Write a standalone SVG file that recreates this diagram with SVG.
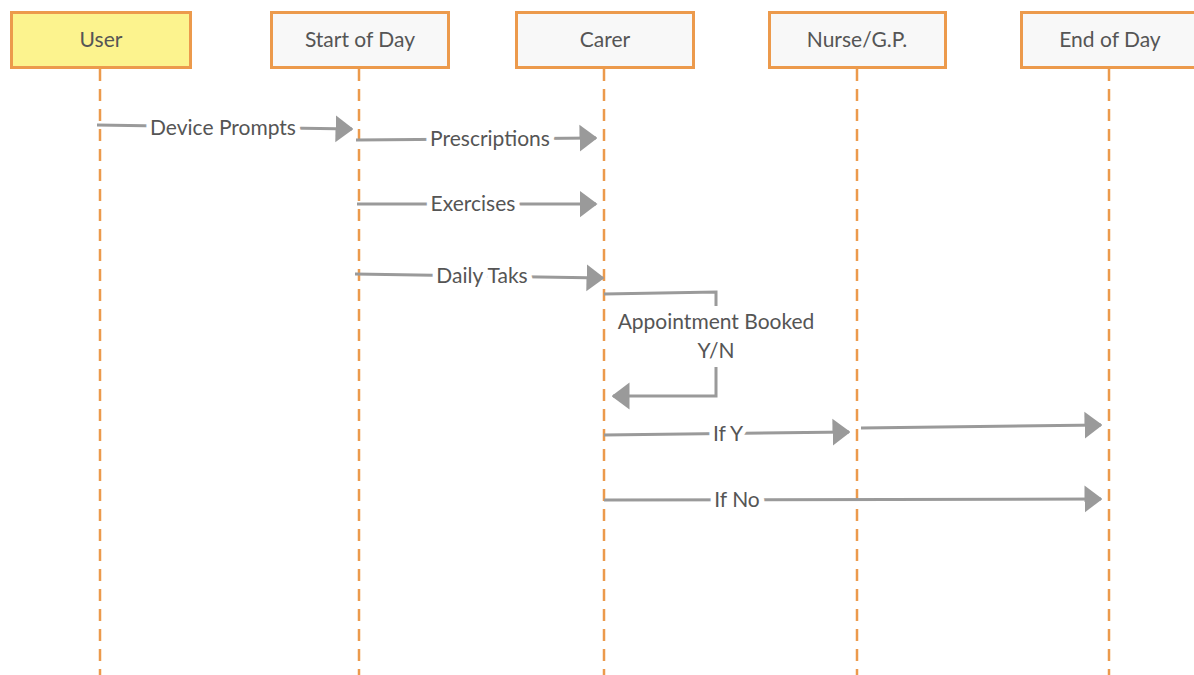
<svg xmlns="http://www.w3.org/2000/svg" width="1194" height="675" viewBox="0 0 1194 675">
  <style>
    .box { stroke: #ec9a4c; stroke-width: 3; fill: #f8f8f8; }
    .box.user { fill: #fcf38e; }
    .life { stroke: #ec9a4c; stroke-width: 2.5; stroke-dasharray: 12 8; fill: none; }
    .title { font-family: Lato, "Open Sans", "Liberation Sans", sans-serif; font-size: 21px; fill: #555; text-anchor: middle; }
    .msg { stroke: #9a9a9a; stroke-width: 3; fill: none; }
    .lbl { font-family: Lato, "Open Sans", "Liberation Sans", sans-serif; font-size: 21px; fill: #555; text-anchor: middle; stroke: #fff; stroke-width: 11; paint-order: stroke; stroke-linejoin: round; }
    .lbl2 { font-family: Lato, "Open Sans", "Liberation Sans", sans-serif; font-size: 21px; fill: #555; text-anchor: middle; }
  </style>
  <defs>
    <marker id="head" markerWidth="6" markerHeight="10" refX="5.5" refY="5" orient="auto" markerUnits="strokeWidth">
      <path d="M0,0.5 L6,5 L0,9.5 Z" fill="#9a9a9a"/>
    </marker>
  </defs>
  <rect width="1194" height="675" fill="#fff"/>

  <!-- lifelines -->
  <g id="lifelines">
    <line class="life" x1="100" y1="69" x2="100" y2="675"/>
    <line class="life" x1="359" y1="69" x2="359" y2="675"/>
    <line class="life" x1="604" y1="69" x2="604" y2="675"/>
    <line class="life" x1="857" y1="69" x2="857" y2="675"/>
    <line class="life" x1="1109" y1="69" x2="1109" y2="675"/>
  </g>

  <!-- participants -->
  <g id="user"><rect class="box user" x="11.5" y="12.5" width="179" height="55"/><text class="title" x="101" y="47">User</text></g>
  <g id="start-of-day"><rect class="box" x="271.5" y="12.5" width="177" height="55"/><text class="title" x="360" y="47">Start of Day</text></g>
  <g id="carer"><rect class="box" x="516.5" y="12.5" width="177" height="55"/><text class="title" x="605" y="47">Carer</text></g>
  <g id="nurse-gp"><rect class="box" x="769.5" y="12.5" width="176" height="55"/><text class="title" x="857" y="47">Nurse/G.P.</text></g>
  <g id="end-of-day"><rect class="box" x="1021.5" y="12.5" width="180" height="55"/><text class="title" x="1110" y="47">End of Day</text></g>

  <!-- messages -->
  <g id="connectors">
    <path class="msg" d="M97,125 L352,129" marker-end="url(#head)"/>
    <text class="lbl" x="223" y="135">Device Prompts</text>

    <path class="msg" d="M356,140 L596,138" marker-end="url(#head)"/>
    <text class="lbl" x="490" y="146">Prescriptions</text>

    <path class="msg" d="M357,204 L596,204" marker-end="url(#head)"/>
    <text class="lbl" x="473" y="211">Exercises</text>

    <path class="msg" d="M355,274 L603,278" marker-end="url(#head)"/>
    <text class="lbl" x="482" y="283">Daily Taks</text>

    <path class="msg" d="M604,294 L716,292 L716,306"/>
    <text class="lbl2" x="716" y="329">Appointment Booked</text>
    <text class="lbl2" x="716" y="358">Y/N</text>
    <path class="msg" d="M716,367 L716,396 L613,396" marker-end="url(#head)"/>

    <path class="msg" d="M604,435 L849,432" marker-end="url(#head)"/>
    <text class="lbl" x="728" y="441">If Y</text>
    <path class="msg" d="M861,428 L1101,425" marker-end="url(#head)"/>

    <path class="msg" d="M604,500 L1101,499" marker-end="url(#head)"/>
    <text class="lbl" x="737" y="507">If No</text>
  </g>
</svg>
